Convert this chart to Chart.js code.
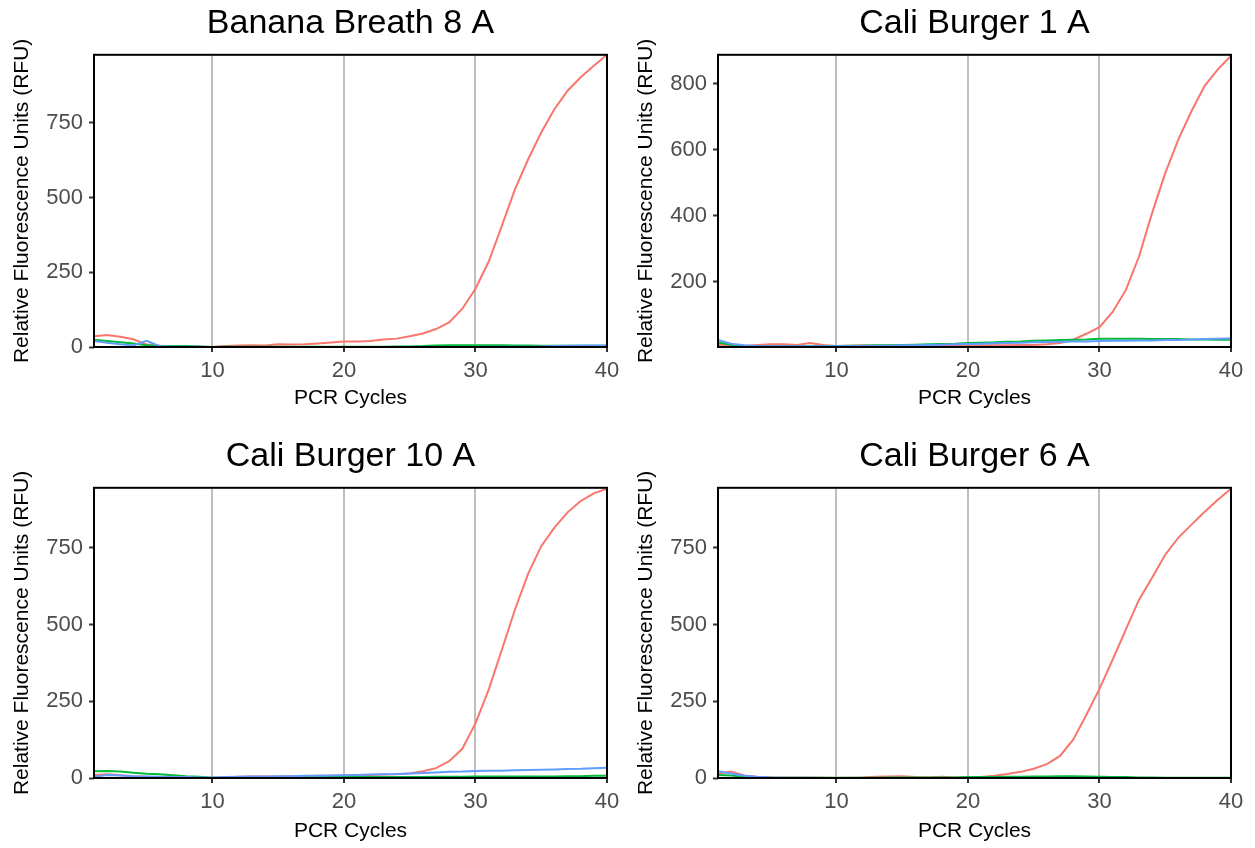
<!DOCTYPE html>
<html>
<head>
<meta charset="utf-8">
<script src="https://cdn.jsdelivr.net/npm/chart.js@4.4.1/dist/chart.umd.min.js"></script>
<style>
  html, body { margin: 0; padding: 0; background: #fff; overflow: hidden; width: 1255px; height: 848px; }
  .cell { position: absolute; width: 627px; height: 424px; }
</style>
</head>
<body>
<div class="cell" style="left:0px;top:0px"><canvas id="bb8" width="627" height="424"></canvas></div>
<div class="cell" style="left:624px;top:0px"><canvas id="cb1" width="627" height="424"></canvas></div>
<div class="cell" style="left:0px;top:433px"><canvas id="cb10" width="627" height="424"></canvas></div>
<div class="cell" style="left:624px;top:433px"><canvas id="cb6" width="627" height="424"></canvas></div>
<script>
const cycles = [1, 2, 3, 4, 5, 6, 7, 8, 9, 10, 11, 12, 13, 14, 15, 16, 17, 18, 19, 20,
                21, 22, 23, 24, 25, 26, 27, 28, 29, 30, 31, 32, 33, 34, 35, 36, 37, 38, 39, 40];
const xTicks = [10, 20, 30, 40];
const yTicks250 = [0, 250, 500, 750];
const yTicks200 = [200, 400, 600, 800];

// Banana Breath 8 A
const bb8Red = [36, 40, 34, 26, 8, 4, 3, 2, 1, 0, 3, 5, 6, 5, 9, 8, 9, 12, 15, 18,
                18, 20, 25, 28, 36, 45, 60, 82, 128, 195, 285, 404, 527, 627, 717, 795, 857, 902, 940, 977];
const bb8Green = [24, 20, 16, 12, 6, 3, 3, 3, 2, 0, 1, 1, 1, 1, 1, 1, 1, 1, 1, 1,
                  1, 1, 1, 2, 2, 3, 5, 6, 6, 6, 6, 6, 5, 5, 4, 4, 4, 4, 4, 4];
const bb8Blue = [20, 14, 9, 5, 21, 3, 1, 1, 1, 0, 0, 0, 0, 0, 0, 0, 0, 0, 0, 0,
                 0, 0, 0, 0, 0, 0, 0, 0, 0, 0, 1, 1, 1, 1, 2, 3, 4, 5, 5, 5];

// Cali Burger 1 A
const cb1Red = [10, 8, 6, 9, 11, 11, 9, 15, 9, 6, 7, 8, 7, 7, 7, 7, 7, 7, 7, 7,
                8, 8, 8, 9, 9, 11, 15, 25, 43, 63, 109, 175, 276, 408, 529, 631, 717, 793, 843, 884];
const cb1Green = [17, 10, 6, 5, 5, 5, 5, 5, 6, 6, 7, 7, 8, 8, 9, 10, 11, 12, 13, 15,
                  16, 17, 19, 20, 22, 23, 24, 25, 26, 28, 28, 28, 28, 27, 27, 27, 26, 26, 25, 25];
const cb1Blue = [24, 13, 8, 6, 5, 5, 5, 5, 5, 5, 6, 6, 7, 7, 8, 8, 9, 10, 11, 12,
                 13, 14, 15, 16, 17, 18, 19, 20, 20, 21, 22, 22, 23, 23, 24, 24, 26, 27, 28, 29];

// Cali Burger 10 A
const cb10Red = [10, 12, 9, 6, 4, 3, 5, 3, 1, 0, 2, 4, 5, 5, 5, 6, 6, 7, 7, 8,
                 9, 10, 11, 12, 15, 22, 32, 55, 95, 178, 287, 417, 548, 665, 755, 815, 865, 902, 927, 942];
const cb10Green = [22, 23, 21, 17, 14, 12, 9, 6, 4, 1, 1, 1, 2, 2, 2, 2, 3, 3, 3, 3,
                   3, 3, 3, 3, 3, 3, 4, 4, 4, 5, 5, 5, 5, 5, 5, 5, 6, 6, 7, 7];
const cb10Blue = [4, 10, 8, 6, 5, 4, 3, 3, 2, 2, 3, 4, 5, 5, 6, 6, 7, 7, 8, 9,
                  10, 11, 12, 13, 15, 16, 18, 20, 21, 23, 24, 24, 25, 26, 27, 28, 29, 30, 32, 33];

// Cali Burger 6 A
const cb6Red = [14, 21, 8, 3, 2, 1, 1, 1, 1, 0, 1, 2, 4, 5, 6, 3, 2, 4, 2, 2,
                3, 7, 13, 20, 30, 45, 72, 125, 205, 290, 385, 483, 580, 652, 727, 783, 825, 867, 906, 942];
const cb6Green = [10, 8, 3, 2, 1, 1, 1, 1, 1, 1, 1, 1, 1, 2, 2, 2, 2, 2, 2, 3,
                  3, 3, 4, 4, 5, 5, 6, 6, 5, 4, 3, 3, 2, 2, 1, 1, 1, 1, 1, 1];
const cb6Blue = [22, 15, 7, 4, 2, 1, 1, 1, 0, 0, 0, 0, 0, 0, 0, 0, 0, 0, 0, 0,
                 0, 0, 0, 0, 0, 0, 0, 0, 0, 0, 0, 0, 0, 0, 0, 0, 0, 0, 0, 0];

const FONT = "'Liberation Sans', Arial, Helvetica, sans-serif";

// black frame round the plot area, like ggplot's panel.border
const frame = {
    id: "frame",
    afterDatasetsDraw(chart) {
        const {ctx, chartArea: a} = chart;
        ctx.save();
        ctx.strokeStyle = "#000";
        ctx.lineWidth = 2;
        ctx.strokeRect(a.left, a.top, a.right - a.left, a.bottom - a.top);
        ctx.restore();
    }
};

const drawPanel = (id, title, red, green, blue, yMin, yMax, yTicks, xHeight) => {
    new Chart(document.getElementById(id), {
        type: "line",
        data: {
            labels: cycles,
            datasets: [
                {data: red, borderColor: "#F8766D", order: 2},
                {data: green, borderColor: "#00BA38", order: 1},
                {data: blue, borderColor: "#619CFF", order: 0}
            ]
        },
        options: {
            responsive: false,
            animation: false,
            layout: {padding: {left: 0, right: 20, top: 0, bottom: 0}},
            elements: {
                point: {radius: 0},
                line: {borderWidth: 2, tension: 0}
            },
            plugins: {
                legend: {display: false},
                tooltip: {enabled: false},
                title: {
                    display: true,
                    fullSize: false,
                    text: title,
                    color: "#000",
                    font: {family: FONT, size: 34, weight: "normal"},
                    padding: {top: 3, bottom: 11}
                }
            },
            scales: {
                x: {
                    type: "linear",
                    min: 1,
                    max: 40,
                    afterBuildTicks: s => { s.ticks = xTicks.map(v => ({value: v})); },
                    afterFit: s => { s.height = xHeight; },
                    border: {display: false},
                    grid: {color: "#bebebe", lineWidth: 2, tickColor: "#333", tickLength: 5, tickWidth: 2},
                    ticks: {color: "#4d4d4d", font: {family: FONT, size: 22}, padding: 6, maxRotation: 0},
                    title: {
                        display: true,
                        text: "PCR Cycles",
                        color: "#000",
                        font: {family: FONT, size: 21},
                        padding: {top: 0, bottom: 13}
                    }
                },
                y: {
                    min: yMin,
                    max: yMax,
                    afterBuildTicks: s => { s.ticks = yTicks.map(v => ({value: v})); },
                    afterFit: s => { s.width = 94; },
                    border: {display: false},
                    grid: {color: "transparent", tickColor: "#333", tickLength: 5, tickWidth: 2},
                    ticks: {color: "#4d4d4d", font: {family: FONT, size: 22}, padding: 6},
                    title: {
                        display: true,
                        text: "Relative Fluorescence Units (RFU)",
                        color: "#000",
                        font: {family: FONT, size: 21},
                        padding: {top: 10, bottom: 0}
                    }
                }
            }
        },
        plugins: [frame]
    });
};

drawPanel("bb8", "Banana Breath 8 A", bb8Red, bb8Green, bb8Blue, 0, 977, yTicks250, 77);
drawPanel("cb1", "Cali Burger 1 A", cb1Red, cb1Green, cb1Blue, 3, 887, yTicks200, 77);
drawPanel("cb10", "Cali Burger 10 A", cb10Red, cb10Green, cb10Blue, 0, 945, yTicks250, 79);
drawPanel("cb6", "Cali Burger 6 A", cb6Red, cb6Green, cb6Blue, 0, 945, yTicks250, 79);
</script>
</body>
</html>
